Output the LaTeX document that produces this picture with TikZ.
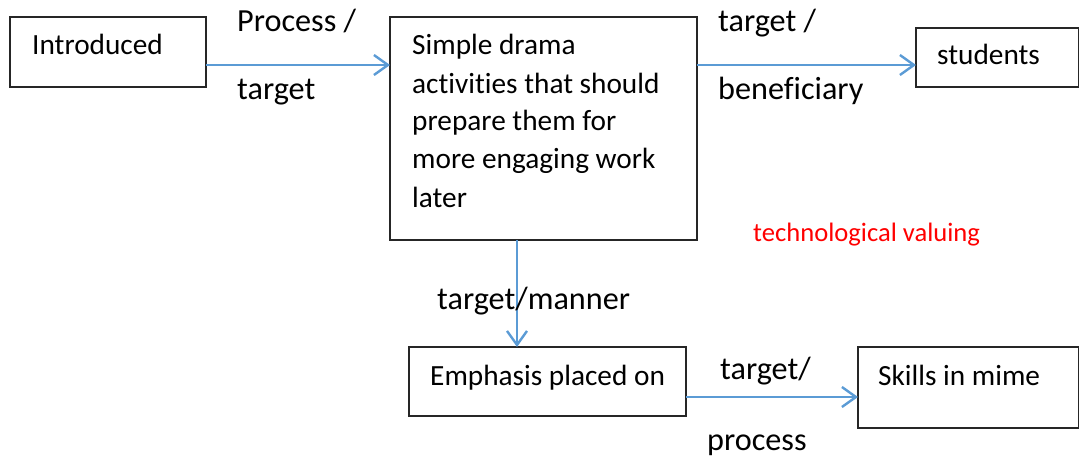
\documentclass[tikz,border=0pt]{standalone}
\usepackage{fontspec}
\setmainfont{Carlito}[Ligatures=NoCommon]
\usetikzlibrary{arrows.meta}
\definecolor{arrblue}{HTML}{5B9BD5}
\begin{document}
\begin{tikzpicture}[x=1pt,y=-1pt,
  box/.style={draw=black!85,line width=1.2pt,inner sep=0pt,outer sep=0pt,rectangle,anchor=north west},
  txt/.style={inner sep=0pt,anchor=base west,font=\fontsize{29.3}{38}\selectfont},
  lbl/.style={inner sep=0pt,anchor=base west,font=\fontsize{32.2}{40}\selectfont},
  redtxt/.style={inner sep=0pt,anchor=base west,text=red,font=\fontsize{26.6}{32}\selectfont},
  arr/.style={draw=arrblue,line width=2.4pt,-{Straight Barb[length=14pt,width=20pt,line width=2.4pt]}}]
\useasboundingbox (0,0) rectangle (1079,462);
% boxes
\node[box,minimum width=196pt,minimum height=70pt] (intro) at (10,17) {};
\node[box,minimum width=307pt,minimum height=223pt] (main) at (390,17) {};
\node[box,minimum width=162.5pt,minimum height=59pt] (stud) at (916,28) {};
\node[box,minimum width=277pt,minimum height=69pt] (emph) at (409,347) {};
\node[box,minimum width=220.5pt,minimum height=81pt] (skills) at (858,347) {};
% box texts
\node[txt] (tintro) at (32,55) {Introduced};
\node[txt] (tm1) at (412,55) {Simple drama};
\node[txt] (tm2) at (412,93.3) {activities that should};
\node[txt] (tm3) at (412,131) {prepare them for};
\node[txt] (tm4) at (412,169) {more engaging work};
\node[txt] (tm5) at (412,207.5) {later};
\node[txt] (tstud) at (937,65) {students};
\node[txt] (temph) at (430,385) {Emphasis placed on};
\node[txt] (tskills) at (878,385) {Skills in mime};
% connectors
\draw[arr] ([yshift=-13pt]intro.east) coordinate (a1) -- (a1 -| main.west);
\draw[arr] (main.east |- a1) -- (a1 -| stud.west);
\draw[arr] ([xshift=-26.5pt]main.south) coordinate (a3) -- (a3 |- emph.north);
\draw[arr] ([yshift=-15.5pt]emph.east) coordinate (a4) -- (a4 -| skills.west);
% connector labels
\node[lbl] (l1a) at (237,32) {Process /};
\node[lbl] (l1b) at (237,100) {target};
\node[lbl] (l2a) at (718,32) {target /};
\node[lbl] (l2b) at (718,100) {beneficiary};
\node[lbl] (l3) at (437,310) {target/manner};
\node[lbl] (l4a) at (720,379) {target/};
\node[lbl] (l4b) at (707,450) {process};
\node[redtxt] (red) at (753,242) {technological valuing};
\end{tikzpicture}
\end{document}
